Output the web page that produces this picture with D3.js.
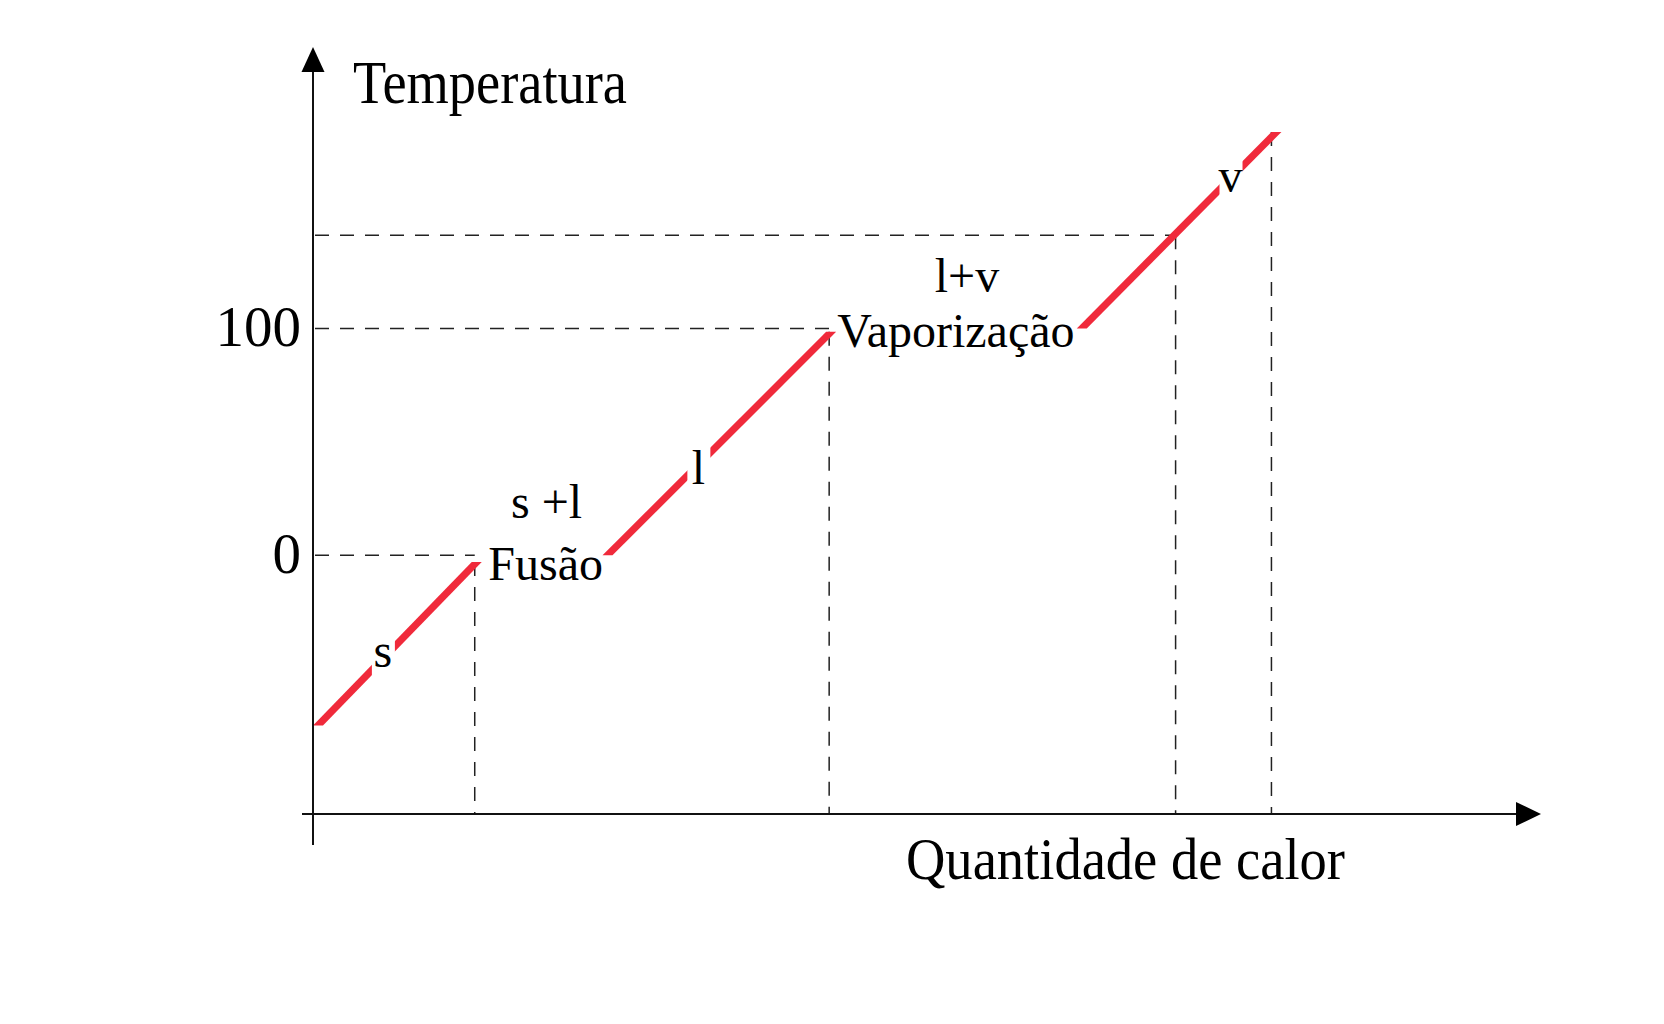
<!DOCTYPE html>
<html>
<head>
<meta charset="utf-8">
<script src="https://cdn.jsdelivr.net/npm/d3@7"></script>
<style>
  html, body { margin: 0; padding: 0; background: #fff; }
  svg { display: block; }
</style>
</head>
<body>
<div id="chart"></div>
<script>
// curva de aquecimento da água
// Q = quantidade de calor (unidades arbitrárias), T = temperatura (°C)

// segmentos inclinados (fases puras)
const segS = [{ q: 0.5, t: -75 }, { q: 16.4, t: -3 }];
const segL = [{ q: 29.5, t: 0 }, { q: 51.9, t: 98.5 }];
const segV = [{ q: 77.0, t: 100 }, { q: 96.5, t: 186.5 }];

// linhas tracejadas de referência
const guideQ = [16.2, 51.7, 86.4, 96.0];
const guideT = [0, 100, 141];
const guideTop = [-3, 98.5, 141, 186.5];   // até onde sobe cada tracejado vertical

// rótulos do eixo y
const yTicks = [0, 100];
const yTickLabels = ['0', '100'];

// rótulos das fases
const phaseText = ['s', 'l', 'v'];
const phaseQ = [7.0, 38.6, 91.9];
const phaseT = [-49.2, 31.4, 160];

const stateText = ['s +l', 'Fusão', 'l+v', 'Vaporização'];
const stateQ = [23.4, 23.3, 65.5, 64.4];
const stateT = [16.3, -11, 116, 91.7];

function draw() {
  const W = 1664, H = 1024;
  const BAND = 10;          // largura horizontal da faixa vermelha
  const RED = '#f02a3b';
  const FONT = '"Liberation Serif", "DejaVu Serif", serif';

  const x = d3.scaleLinear().domain([0, 123]).range([313, 1541]);
  const y = d3.scaleLinear().domain([-114, 224]).range([814, 47]);

  const svg = d3.select('#chart').append('svg')
    .attr('width', W).attr('height', H);

  // tracejados
  const dash = svg.append('g')
    .attr('stroke', '#222')
    .attr('stroke-width', 1.5)
    .attr('stroke-dasharray', '14,11')
    .attr('fill', 'none');

  dash.selectAll('.hg')
    .data(guideT)
    .join('line')
    .attr('class', 'hg')
    .attr('x1', x(0) + 2)
    .attr('x2', (d, i) => x(guideQ[i]))
    .attr('y1', d => y(d))
    .attr('y2', d => y(d));

  dash.selectAll('.vg')
    .data(guideQ)
    .join('line')
    .attr('class', 'vg')
    .attr('x1', d => x(d))
    .attr('x2', d => x(d))
    .attr('y1', (d, i) => y(guideTop[i]))
    .attr('y2', y(-114));

  // faixas vermelhas: área com largura horizontal constante (pontas horizontais)
  const band = d3.area()
    .x0(d => x(d.q) - BAND / 2)
    .x1(d => x(d.q) + BAND / 2)
    .y(d => y(d.t));

  svg.append('g').selectAll('path')
    .data([segS, segL, segV])
    .join('path')
    .attr('d', band)
    .attr('fill', RED);

  // eixos
  const axes = svg.append('g').attr('stroke', '#111').attr('stroke-width', 2);
  axes.append('line')
    .attr('x1', x(0)).attr('x2', x(0))
    .attr('y1', y(-114) + 31).attr('y2', y(224) + 20);
  axes.append('line')
    .attr('x1', x(0) - 11).attr('x2', x(123) - 24)
    .attr('y1', y(-114)).attr('y2', y(-114));

  // pontas de seta
  svg.append('path')
    .attr('d', `M${x(0)},${y(224)} L${x(0) - 11.5},${y(224) + 25} L${x(0) + 11.5},${y(224) + 25} Z`)
    .attr('fill', '#000');
  svg.append('path')
    .attr('d', `M${x(123)},${y(-114)} L${x(123) - 25},${y(-114) - 12} L${x(123) - 25},${y(-114) + 12} Z`)
    .attr('fill', '#000');

  // rótulos do eixo y (0 e 100)
  const yAxis = d3.axisLeft(y)
    .tickValues(yTicks)
    .tickSize(0)
    .tickPadding(12)
    .tickFormat((d, i) => yTickLabels[i]);

  const gy = svg.append('g')
    .attr('transform', `translate(${x(0)},0)`)
    .call(yAxis);
  gy.select('.domain').remove();
  gy.selectAll('text')
    .attr('font-family', FONT)
    .attr('font-size', 57)
    .attr('fill', '#000')
    .attr('dy', '0.3em');

  // rótulos das fases sobre a linha, com fundo branco que corta a faixa
  const phases = svg.append('g').selectAll('g')
    .data(phaseText)
    .join('g')
    .attr('transform', (d, i) => `translate(${x(phaseQ[i])},${y(phaseT[i])})`);

  phases.append('rect')
    .attr('x', -11).attr('y', -38)
    .attr('width', 23).attr('height', 50)
    .attr('fill', '#fff');

  phases.append('text')
    .attr('text-anchor', 'middle')
    .attr('font-family', FONT)
    .attr('font-size', 48)
    .attr('fill', '#000')
    .text(d => d);

  // rótulos dos patamares
  svg.append('g').selectAll('text')
    .data(stateText)
    .join('text')
    .attr('x', (d, i) => x(stateQ[i]))
    .attr('y', (d, i) => y(stateT[i]))
    .attr('text-anchor', 'middle')
    .attr('font-family', FONT)
    .attr('font-size', 48)
    .attr('fill', '#000')
    .text(d => d);

  // títulos dos eixos
  svg.append('text')
    .attr('x', 353).attr('y', 103)
    .attr('font-family', FONT)
    .attr('font-size', 62)
    .attr('textLength', 274)
    .attr('lengthAdjust', 'spacingAndGlyphs')
    .text('Temperatura');

  svg.append('text')
    .attr('x', 906).attr('y', 879)
    .attr('font-family', FONT)
    .attr('font-size', 60)
    .attr('textLength', 439)
    .attr('lengthAdjust', 'spacingAndGlyphs')
    .text('Quantidade de calor');
}

draw();
</script>
</body>
</html>
